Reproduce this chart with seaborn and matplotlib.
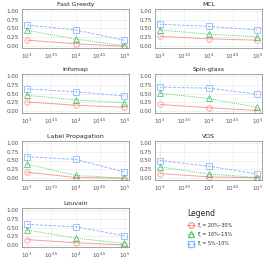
import numpy as np
import pandas as pd
import matplotlib
matplotlib.use("Agg")
import matplotlib.pyplot as plt
import seaborn as sns
from matplotlib.lines import Line2D

sns.set_style("white")
plt.rcParams['font.family'] = ['DejaVu Sans']

# data
sizes = [1000, 10000, 100000]
groups = ["ξ = 20%–30%", "ξ = 10%–15%", "ξ = 5%–10%"]
methods = ["Fast Greedy", "MCL", "Infomap", "Spin-glass",
           "Label Propagation", "VOS", "Louvain"]

fast_greedy = [[0.17, 0.07, 0.00], [0.45, 0.20, 0.02], [0.60, 0.46, 0.17]]
mcl = [[0.28, 0.21, 0.17], [0.46, 0.34, 0.27], [0.62, 0.56, 0.46]]
infomap = [[0.26, 0.17, 0.11], [0.45, 0.32, 0.24], [0.63, 0.55, 0.43]]
spin_glass = [[0.19, 0.10, 0.02], [0.51, 0.36, 0.11], [0.68, 0.65, 0.48]]
label_prop = [[0.17, 0.02, 0.00], [0.40, 0.08, 0.00], [0.61, 0.53, 0.18]]
vos = [[0.13, 0.04, 0.01], [0.32, 0.12, 0.02], [0.50, 0.34, 0.12]]
louvain = [[0.16, 0.07, 0.01], [0.43, 0.20, 0.05], [0.59, 0.52, 0.27]]

values = [fast_greedy, mcl, infomap, spin_glass, label_prop, vos, louvain]

rows = []
for m, vals in zip(methods, values):
    for g, series in zip(groups, vals):
        for n, v in zip(sizes, series):
            rows.append({"method": m, "group": g, "n": n, "value": v})
df = pd.DataFrame(rows)

palette = {groups[0]: "#F8766D", groups[1]: "#00BA38", groups[2]: "#619CFF"}
markers = {groups[0]: "o", groups[1]: "^", groups[2]: "s"}
dashes = {groups[0]: "", groups[1]: (1, 1.2), groups[2]: (3, 1.5)}

fig = plt.figure(figsize=(2.66, 2.66), dpi=100)

W, H = 266.0, 266.0
col_x = [22, 155]
panel_w = 107
row_top = [9, 74, 141, 208]
panel_h = 39

for i, m in enumerate(methods):
    r, c = divmod(i, 2)
    ax = fig.add_axes([col_x[c] / W, 1 - (row_top[r] + panel_h) / H,
                       panel_w / W, panel_h / H])
    sub = df[df["method"] == m]
    sns.lineplot(data=sub, x="n", y="value", hue="group", style="group",
                 palette=palette, markers=markers, dashes=dashes,
                 hue_order=groups, style_order=groups,
                 markersize=4, markerfacecolor="none", markeredgewidth=0.6,
                 linewidth=0.7, alpha=0.7, legend=False, ax=ax)
    # open markers with coloured edges
    for line in ax.lines:
        line.set_markeredgecolor(line.get_color())
    ax.set_xscale("log")
    ax.set_xlim(10 ** 2.9, 10 ** 5.1)
    ax.set_ylim(-0.05, 1.05)
    ax.set_xticks([10 ** 3, 10 ** 3.5, 10 ** 4, 10 ** 4.5, 10 ** 5])
    ax.set_xticklabels(["$10^{3}$", "$10^{3.5}$", "$10^{4}$", "$10^{4.5}$", "$10^{5}$"])
    ax.minorticks_off()
    ax.set_yticks([0, 0.25, 0.5, 0.75, 1.0])
    ax.set_yticklabels(["0.00", "0.25", "0.50", "0.75", "1.00"])
    ax.tick_params(labelsize=4, length=1.5, width=0.4, pad=1, colors="#4d4d4d",
                   labelcolor="#4d4d4d")
    ax.grid(True, color="#ebebeb", linewidth=0.5)
    for s in ax.spines.values():
        s.set_color("#7f7f7f")
        s.set_linewidth(0.5)
    ax.set_xlabel("")
    ax.set_ylabel("")
    ax.set_title(m, fontsize=4.5, pad=2)

handles = [Line2D([], [], color=palette[g], marker=markers[g], markersize=4,
                  markerfacecolor="none", linewidth=0.7, alpha=0.7,
                  linestyle=["-", ":", "--"][k])
           for k, g in enumerate(groups)]
leg = fig.legend(handles, groups, title="Legend", loc="upper left",
                 bbox_to_anchor=(183 / W, 1 - 205 / H), frameon=False,
                 fontsize=3.5, title_fontsize=5.5, handlelength=1.6,
                 labelspacing=0.9, handletextpad=0.6)
leg._legend_box.align = "left"

fig.savefig("out.png", dpi=100)
